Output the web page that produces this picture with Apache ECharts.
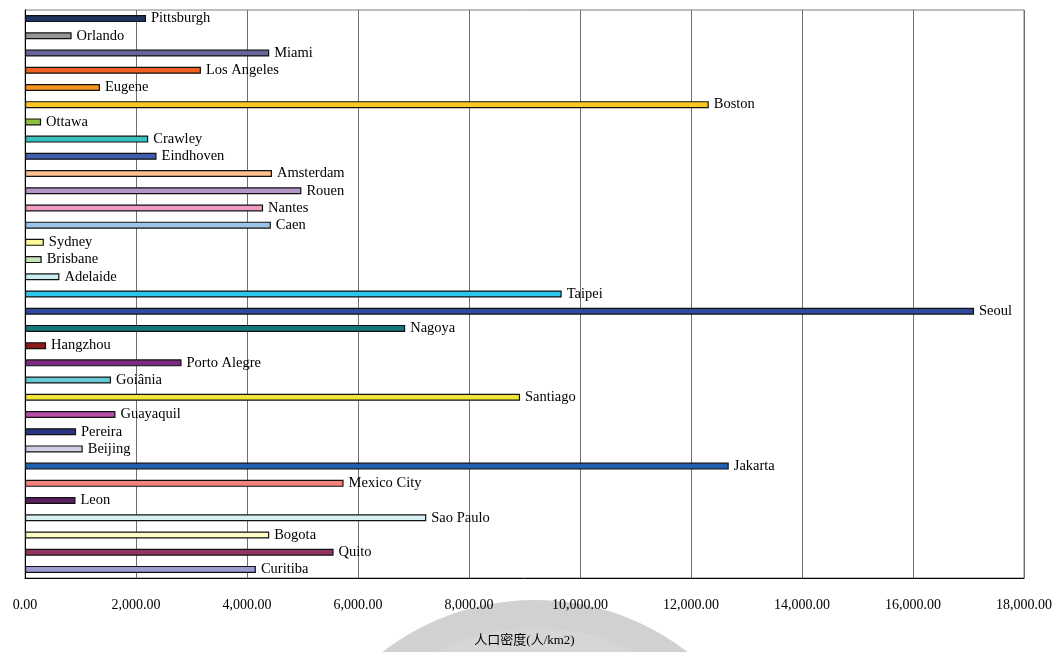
<!DOCTYPE html>
<html>
<head>
<meta charset="utf-8">
<script src="https://cdn.jsdelivr.net/npm/echarts@6/dist/echarts.min.js"></script>
<style>
  html, body { margin: 0; padding: 0; background: #ffffff; }
  #chart { width: 1061px; height: 652px; }
</style>
</head>
<body>
<div id="chart"></div>
<script>
// Cities, listed top to bottom
const cities = [
  'Pittsburgh', 'Orlando', 'Miami', 'Los Angeles', 'Eugene', 'Boston',
  'Ottawa', 'Crawley', 'Eindhoven', 'Amsterdam', 'Rouen', 'Nantes', 'Caen',
  'Sydney', 'Brisbane', 'Adelaide', 'Taipei', 'Seoul', 'Nagoya', 'Hangzhou',
  'Porto Alegre', 'Goiânia', 'Santiago', 'Guayaquil', 'Pereira', 'Beijing',
  'Jakarta', 'Mexico City', 'Leon', 'Sao Paulo', 'Bogota', 'Quito', 'Curitiba'
];

// Population density (persons per km2)
const density = [
  2180, 840, 4400, 3170, 1350, 12320,
  290, 2220, 2370, 4450, 4980, 4290, 4430,
  340, 300, 620, 9670, 17100, 6850, 380,
  2820, 1550, 8920, 1630, 920, 1040,
  12680, 5740, 910, 7230, 4400, 5560, 4160
];

const barColors = [
  '#1f3561', '#969696', '#66669c', '#ef5f22', '#f7941f', '#fcc626',
  '#8cc23f', '#36c2c0', '#3f5fae', '#fbc18e', '#b497c9', '#f39ac2', '#9dc3e6',
  '#fdfa9c', '#c6e2b8', '#cdeef0', '#2ec5ef', '#2d4a9c', '#15777a', '#8b1a1a',
  '#7a2b7f', '#67cbd6', '#f0e63a', '#b54ea5', '#2b3480', '#cfcde8',
  '#1f5fad', '#f4827c', '#5a1f5c', '#d7f1f3', '#fffbc4', '#953264', '#9c9cd2'
];

const xTicks = { min: 0, max: 18000, interval: 2000 };

const serif = '"Liberation Serif", "Times New Roman", "Noto Sans CJK TC", serif';

const chart = echarts.init(document.getElementById('chart'));

chart.setOption({
  animation: false,
  backgroundColor: '#ffffff',
  // faint seal emblem behind the axis title
  graphic: [
    {
      type: 'circle', z: -10, silent: true,
      shape: { cx: 535, cy: 850, r: 250 },
      style: { fill: '#c6c6c6', opacity: 0.8 }
    },
    {
      type: 'circle', z: -9, silent: true,
      shape: { cx: 535, cy: 850, r: 222 },
      style: { fill: '#d6d6d6', opacity: 0.9 }
    }
  ],
  grid: {
    left: 25, right: 37, top: 10, bottom: 74,
    show: true, borderColor: '#7f7f7f', borderWidth: 1, backgroundColor: '#ffffff'
  },
  xAxis: {
    type: 'value',
    min: xTicks.min, max: xTicks.max, interval: xTicks.interval,
    name: '人口密度(人/km2)',
    nameLocation: 'middle',
    nameGap: 56,
    nameTextStyle: { fontFamily: serif, fontSize: 13, color: '#000' },
    axisLine: { show: true, lineStyle: { color: '#000', width: 1 } },
    axisTick: { show: false },
    splitLine: { show: true, lineStyle: { color: '#6f6f6f', width: 1 } },
    axisLabel: {
      margin: 20,
      fontFamily: serif, fontSize: 14, color: '#000',
      formatter: v => v.toLocaleString('en-US', { minimumFractionDigits: 2, maximumFractionDigits: 2 })
    }
  },
  yAxis: {
    type: 'category',
    data: cities,
    inverse: true,
    axisLine: { show: true, lineStyle: { color: '#000', width: 1 } },
    axisTick: { show: false },
    axisLabel: { show: false },
    splitLine: { show: false }
  },
  series: [{
    type: 'bar',
    data: density.map((v, i) => ({ value: v, itemStyle: { color: barColors[i] } })),
    barWidth: 7,
    itemStyle: { borderColor: '#111111', borderWidth: 1.2 },
    label: {
      show: true,
      position: 'right',
      distance: 5,
      formatter: p => cities[p.dataIndex],
      fontFamily: serif, fontSize: 14.5, color: '#000'
    }
  }]
});
</script>
</body>
</html>
